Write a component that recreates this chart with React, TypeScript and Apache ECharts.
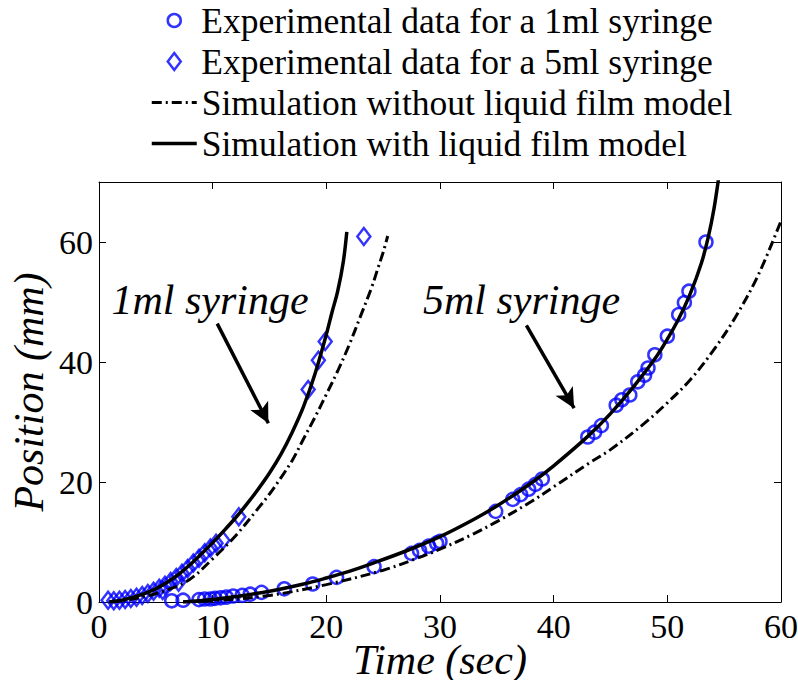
import React, { useEffect, useRef } from "react";
import * as echarts from "echarts";

const FONT = "Liberation Serif";

// Legend / series names
const NAME_CIRCLES = "Experimental data for a 1ml syringe";
const NAME_DIAMONDS = "Experimental data for a 5ml syringe";
const NAME_NOFILM = "Simulation without liquid film model";
const NAME_FILM = "Simulation with liquid film model";

// Experimental data (circles)
const circleX = [6.4, 7.4, 8.8, 9.3, 9.8, 10.2, 10.7, 11.2, 11.8, 12.6, 13.3, 14.3, 16.3, 18.8, 20.9, 24.2, 27.5, 28.2, 29.0, 29.7, 30.0, 34.9, 36.4, 37.1, 37.8, 38.4, 39.0, 43.0, 43.6, 44.2, 45.5, 46.0, 46.7, 47.4, 48.0, 48.3, 48.9, 50.0, 51.0, 51.5, 51.9, 53.4];
const circleY = [0.2, 0.3, 0.4, 0.5, 0.5, 0.6, 0.7, 0.8, 1.0, 1.1, 1.3, 1.6, 2.2, 3.0, 4.1, 5.9, 8.1, 8.6, 9.3, 9.8, 10.1, 15.1, 17.1, 17.9, 18.8, 19.6, 20.5, 27.5, 28.3, 29.4, 32.8, 33.7, 34.5, 36.7, 37.8, 39.0, 41.2, 44.3, 47.9, 49.9, 51.8, 60.0];

// Experimental data (diamonds)
const diamondX = [0.8, 1.3, 1.8, 2.3, 2.8, 3.3, 3.8, 4.3, 4.8, 5.3, 5.6, 5.8, 6.3, 6.8, 7.0, 7.3, 7.8, 8.3, 8.8, 9.3, 9.8, 10.3, 10.9, 12.3, 18.4, 19.3, 19.9, 23.3];
const diamondY = [0.3, 0.2, 0.3, 0.4, 0.6, 0.8, 1.1, 1.4, 1.8, 2.3, 1.9, 2.8, 3.4, 4.1, 3.3, 4.8, 5.6, 6.5, 7.3, 8.2, 9.0, 9.8, 10.3, 14.2, 35.4, 40.3, 43.4, 60.9];

// Simulation with liquid film model (solid)
const film1X = [0.9, 2, 3, 4, 5, 6, 7, 8, 9, 10, 11, 12, 13, 14, 15, 16, 17, 18, 19, 20, 20.5, 21, 21.5, 21.8];
const film1Y = [0, 0.3, 0.8, 1.4, 2.2, 3.3, 4.6, 6.2, 8.0, 9.9, 11.9, 14.0, 16.3, 18.8, 21.5, 24.6, 28.3, 32.6, 38.0, 44.6, 48.3, 51.8, 56.8, 61.7];
const film5X = [7.4, 10, 12, 15, 18, 20, 22, 24, 27, 30, 33, 35, 38, 40, 43, 45, 47, 49, 50, 51, 52, 53, 53.6, 54.1, 54.5];
const film5Y = [0, 0.4, 0.9, 1.8, 3.0, 4.0, 5.1, 6.4, 8.5, 10.9, 13.8, 16.0, 19.8, 22.7, 27.6, 31.4, 35.8, 40.8, 43.8, 47.2, 51.3, 56.5, 60.8, 65.5, 70.5];

// Simulation without liquid film model (dash-dot)
const noFilm1X = [0.9, 2, 4, 6, 8, 10, 12, 14, 15, 16, 17, 18, 19, 20, 21, 22, 23, 24, 24.5, 25, 25.4];
const noFilm1Y = [0, 0.2, 0.9, 2.0, 3.8, 7.2, 11.0, 15.6, 18.0, 20.7, 23.6, 27.2, 30.8, 34.6, 38.5, 42.8, 47.6, 52.5, 55.4, 58.3, 61.0];
const noFilm5X = [7.4, 10, 15, 20, 25, 28, 30, 33, 35, 38, 40, 43, 45, 48, 50, 52, 54, 56, 58, 60];
const noFilm5Y = [0, 0.2, 1.1, 2.9, 5.3, 7.3, 8.8, 11.4, 13.4, 16.7, 19.2, 23.0, 25.4, 29.8, 33.2, 37.0, 41.8, 47.5, 54.5, 63.5];

// Axis ticks
const X_MIN = 0, X_MAX = 60, X_STEP = 10;
const Y_MIN = 0, Y_MAX = 70, Y_STEP = 20;

// Annotations (data coordinates)
const annoTexts = ["1ml syringe", "5ml syringe"];
const annoX = [1.1, 28.5];
const annoY = [50.3, 50.3];
const arrowFrom = [[10.4, 46.4], [37.6, 46.1]];
const arrowTo = [[14.9, 29.8], [41.8, 32.3]];

const zip = (xs: number[], ys: number[]) => xs.map((x, i) => [x, ys[i]]);

export default function App() {
  const ref = useRef<HTMLDivElement>(null);

  useEffect(() => {
    if (!ref.current) return;
    const chart = echarts.init(ref.current, null, { renderer: "svg" });

    const axisCommon = {
      type: "value" as const,
      splitLine: { show: false },
      axisLine: { show: true, onZero: false, lineStyle: { color: "#000", width: 1 } },
      axisTick: { show: true, inside: true, length: 7, lineStyle: { color: "#000", width: 1 } },
    };

    const dashType: any = [10, 4, 2, 4];
    const solidStyle = { color: "#000", width: 3.5, type: "solid" as const };
    const dashStyle = { color: "#000", width: 3, type: dashType };
    const markerStyle = { color: "rgba(0,0,0,0)", borderColor: "#0000ff", borderWidth: 2.5 };
    const tickFont = { fontSize: 34, fontFamily: FONT, color: "#000" };
    const titleFont = { fontSize: 42, fontStyle: "italic", fontFamily: FONT, color: "#000", lineHeight: 40 };
    const legendText = { fontSize: 35.5, fontFamily: FONT, color: "#000", lineHeight: 41 };

    const option: any = {
      animation: false,
      backgroundColor: "#fff",
      grid: {
        left: 99,
        right: 17,
        top: 182,
        bottom: 78,
        containLabel: false,
        outerBoundsMode: "none",
      },
      legend: [
        {
          orient: "vertical",
          left: 166.5,
          top: 0,
          padding: 0,
          itemWidth: 13,
          itemHeight: 17,
          itemGap: 0,
          symbolKeepAspect: true,
          selectedMode: false,
          textStyle: { ...legendText, padding: [0, 0, 0, 15.5] },
          data: [
            { name: NAME_CIRCLES, itemStyle: { borderWidth: 2.5 } },
            { name: NAME_DIAMONDS, itemStyle: { borderWidth: 2.5 } },
          ],
        },
        {
          orient: "vertical",
          left: 150,
          top: 82,
          padding: 0,
          itemWidth: 45,
          itemHeight: 14,
          itemGap: 0,
          selectedMode: false,
          textStyle: legendText,
          data: [
            { name: NAME_NOFILM, itemStyle: { opacity: 0 }, lineStyle: { width: 3, type: dashType, color: "#000" } },
            { name: NAME_FILM, itemStyle: { opacity: 0 }, lineStyle: { width: 3.5, type: "solid", color: "#000" } },
          ],
        },
      ],
      xAxis: [
        {
          ...axisCommon,
          position: "bottom",
          min: X_MIN,
          max: X_MAX,
          interval: X_STEP,
          axisLabel: { ...tickFont, margin: 7 },
          name: "Time (sec)",
          nameLocation: "middle",
          nameGap: 38,
          nameMoveOverlap: false,
          nameTextStyle: titleFont,
        },
        {
          ...axisCommon,
          position: "top",
          min: X_MIN,
          max: X_MAX,
          interval: X_STEP,
          axisLabel: { show: false },
        },
      ],
      yAxis: [
        {
          ...axisCommon,
          position: "left",
          min: Y_MIN,
          max: Y_MAX,
          interval: Y_STEP,
          axisLabel: { ...tickFont, margin: 6, showMaxLabel: false },
          name: "Position (mm)",
          nameLocation: "middle",
          nameGap: 50,
          nameMoveOverlap: false,
          nameTextStyle: titleFont,
        },
        {
          ...axisCommon,
          position: "right",
          min: Y_MIN,
          max: Y_MAX,
          interval: Y_STEP,
          axisLabel: { show: false },
        },
      ],
      series: [
        {
          name: NAME_CIRCLES,
          type: "scatter",
          symbol: "circle",
          symbolSize: 13,
          symbolKeepAspect: true,
          z: 2,
          itemStyle: markerStyle,
          data: zip(circleX, circleY),
        },
        {
          name: NAME_DIAMONDS,
          type: "scatter",
          symbol: "diamond",
          symbolSize: [13, 17],
          symbolKeepAspect: true,
          z: 2,
          itemStyle: markerStyle,
          data: zip(diamondX, diamondY),
        },
        {
          name: NAME_NOFILM,
          type: "line",
          symbol: "none",
          showSymbol: false,
          smooth: 0.35,
          z: 3,
          lineStyle: dashStyle,
          itemStyle: { color: "#000" },
          data: zip(noFilm1X, noFilm1Y),
        },
        {
          name: NAME_NOFILM,
          type: "line",
          symbol: "none",
          showSymbol: false,
          smooth: 0.35,
          z: 3,
          lineStyle: dashStyle,
          itemStyle: { color: "#000" },
          data: zip(noFilm5X, noFilm5Y),
        },
        {
          name: NAME_FILM,
          type: "line",
          symbol: "none",
          showSymbol: false,
          smooth: 0.35,
          z: 4,
          lineStyle: solidStyle,
          itemStyle: { color: "#000" },
          data: zip(film1X, film1Y),
          markLine: {
            silent: true,
            animation: false,
            symbol: ["none", "arrow"],
            symbolSize: [15, 20],
            label: { show: false },
            lineStyle: { color: "#000", width: 3.5, type: "solid" },
            data: arrowFrom.map((f, i) => [{ coord: f }, { coord: arrowTo[i] }]),
          },
        },
        {
          name: NAME_FILM,
          type: "line",
          symbol: "none",
          showSymbol: false,
          smooth: 0.35,
          z: 4,
          lineStyle: solidStyle,
          itemStyle: { color: "#000" },
          data: zip(film5X, film5Y),
        },
      ],
    };

    chart.setOption(option);

    const graphics = annoTexts.map((t, i) => {
      const p = chart.convertToPixel({ gridIndex: 0 }, [annoX[i], annoY[i]]) as number[];
      return {
        type: "text",
        x: p[0],
        y: p[1],
        z: 10,
        style: {
          text: t,
          fontSize: 42,
          fontStyle: "italic",
          fontFamily: FONT,
          fill: "#000",
          align: "left",
          verticalAlign: "middle",
        },
      };
    });
    chart.setOption({ graphic: graphics });

    return () => chart.dispose();
  }, []);

  return (
    <div
      ref={ref}
      style={{ position: "fixed", left: 0, top: 0, width: 798, height: 680, background: "#fff" }}
    />
  );
}
